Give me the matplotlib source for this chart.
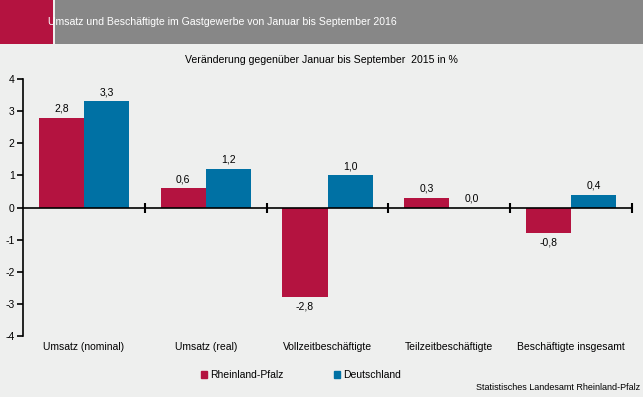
import numpy as np
import matplotlib.pyplot as plt
from matplotlib.patches import Rectangle, Patch

plt.rcParams['font.family'] = ['Liberation Sans', 'DejaVu Sans']
plt.rcParams['axes.unicode_minus'] = False

# Data
categories = ['Umsatz (nominal)', 'Umsatz (real)', 'Vollzeitbeschäftigte',
              'Teilzeitbeschäftigte', 'Beschäftigte insgesamt']
rlp = [2.8, 0.6, -2.8, 0.3, -0.8]
de = [3.3, 1.2, 1.0, 0.0, 0.4]
series_names = ['Rheinland-Pfalz', 'Deutschland']

title = 'Umsatz und Beschäftigte im Gastgewerbe von Januar bis September 2016'
subtitle = 'Veränderung gegenüber Januar bis September  2015 in %'
source = 'Statistisches Landesamt Rheinland-Pfalz'

RED = '#b41340'
BLUE = '#0071a4'
BG = '#eeefee'
HEAD = '#878787'

fig = plt.figure(figsize=(6.43, 3.97), dpi=100, facecolor=BG)

# Header band
fig.patches.append(Rectangle((0, 1 - 44/397), 53/643, 44/397, transform=fig.transFigure,
                             facecolor=RED, edgecolor='none'))
fig.patches.append(Rectangle((55/643, 1 - 44/397), 1 - 55/643, 44/397, transform=fig.transFigure,
                             facecolor=HEAD, edgecolor='none'))
fig.text(48/643, 1 - 22/397, title, color='white', fontsize=7.6, va='center', ha='left')
fig.text(321/643, 1 - 60/397, subtitle, fontsize=7.6, va='center', ha='center')

ax = fig.add_axes([23/643, 1 - 336/397, (632 - 23)/643, (336 - 79)/397])
ax.set_facecolor(BG)

x = np.arange(len(categories))
w = 0.37
b1 = ax.bar(x - w/2, rlp, w, color=RED, label=series_names[0])
b2 = ax.bar(x + w/2, de, w, color=BLUE, label=series_names[1])

for bars, vals in ((b1, rlp), (b2, de)):
    for bar, v in zip(bars, vals):
        lbl = f'{v:.1f}'.replace('.', ',')
        cx = bar.get_x() + bar.get_width()/2
        if v >= 0:
            ax.annotate(lbl, (cx, v), xytext=(0, 3), textcoords='offset points',
                        ha='center', va='bottom', fontsize=7.5)
        else:
            ax.annotate(lbl, (cx, v), xytext=(0, -3), textcoords='offset points',
                        ha='center', va='top', fontsize=7.5)

ax.set_xlim(-0.5, len(categories) - 0.5)
ax.set_ylim(-4, 4)
ax.set_yticks(np.arange(-4, 5, 1))
ax.tick_params(axis='y', direction='out', length=4, width=1.2, labelsize=7.5, pad=2)

ax.spines['top'].set_visible(False)
ax.spines['right'].set_visible(False)
ax.spines['left'].set_linewidth(1.2)
ax.spines['bottom'].set_position(('data', 0))
ax.spines['bottom'].set_linewidth(1.2)

ax.set_xticks(np.arange(len(categories)) + 0.5)
ax.set_xticklabels([])
ax.tick_params(axis='x', direction='inout', length=7, width=1.5)

for i, c in enumerate(categories):
    ax.text(i, -0.025, c, transform=ax.get_xaxis_transform(), ha='center', va='top',
            fontsize=7.5)

handles = [Patch(color=RED), Patch(color=BLUE)]
fig.legend(handles, series_names, loc='center', bbox_to_anchor=(301/643, 1 - 375/397),
           ncol=2, frameon=False, fontsize=7.5, handlelength=0.6, handleheight=0.6,
           handletextpad=0.3, columnspacing=4.8)

fig.text(640/643, 1 - 387/397, source, fontsize=6.5, ha='right', va='center')

fig.savefig('out.png', dpi=100, facecolor=BG)
